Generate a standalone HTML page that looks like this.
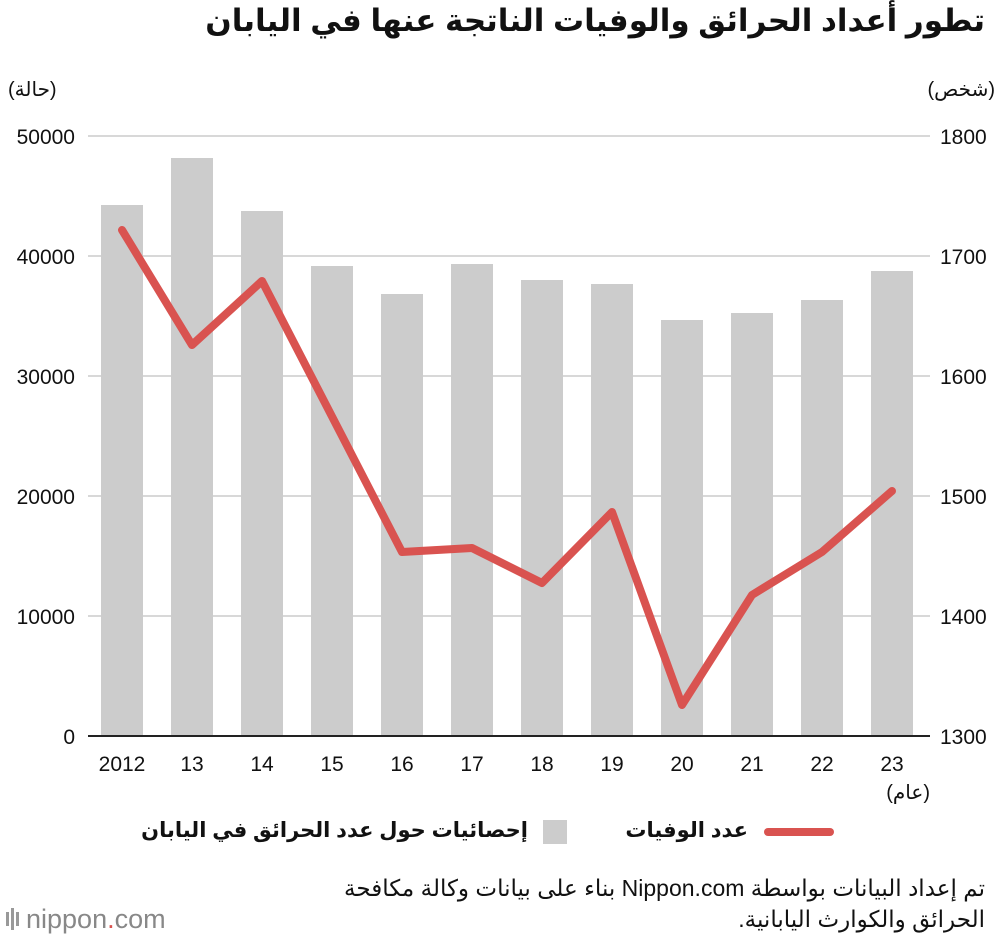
<!DOCTYPE html>
<html><head><meta charset="utf-8"><style>
body{margin:0;background:#fff;position:relative;width:1000px;height:944px;overflow:hidden;}
svg text{font-family:"Liberation Sans","DejaVu Sans",sans-serif;}
.t{position:absolute;font-family:"Liberation Sans","DejaVu Sans",sans-serif;color:#111;white-space:nowrap;direction:rtl;}
</style></head><body>
<svg width="1000" height="944" xmlns="http://www.w3.org/2000/svg" style="position:absolute;left:0;top:0">
<rect width="1000" height="944" fill="#fff"/>
<g stroke="#ccc" stroke-width="1.5">
<line x1="88" x2="930" y1="136" y2="136"/><line x1="88" x2="930" y1="256" y2="256"/>
<line x1="88" x2="930" y1="376" y2="376"/><line x1="88" x2="930" y1="496" y2="496"/>
<line x1="88" x2="930" y1="616" y2="616"/>
</g>
<g fill="#ccc">
<rect x="101" y="205" width="42" height="531"/><rect x="171" y="158" width="42" height="578"/>
<rect x="241" y="211" width="42" height="525"/><rect x="311" y="266" width="42" height="470"/>
<rect x="381" y="294" width="42" height="442"/><rect x="451" y="264" width="42" height="472"/>
<rect x="521" y="280" width="42" height="456"/><rect x="591" y="284" width="42" height="452"/>
<rect x="661" y="320" width="42" height="416"/><rect x="731" y="313" width="42" height="423"/>
<rect x="801" y="300" width="42" height="436"/><rect x="871" y="271" width="42" height="465"/>
</g>
<line x1="88" x2="930" y1="736" y2="736" stroke="#222" stroke-width="2"/>
<polyline fill="none" stroke="#d95350" stroke-width="8" stroke-linejoin="round" stroke-linecap="round"
points="122,230 192,345 262,281 402,552 472,548 542,583 612,512 682,705 752,595 822,552 892,491"/>
<g font-size="21" fill="#111" text-anchor="end">
<text x="75" y="144">50000</text><text x="75" y="264">40000</text><text x="75" y="384">30000</text>
<text x="75" y="504">20000</text><text x="75" y="624">10000</text><text x="75" y="744">0</text>
</g>
<g font-size="21" fill="#111">
<text x="940" y="144">1800</text><text x="940" y="264">1700</text><text x="940" y="384">1600</text>
<text x="940" y="504">1500</text><text x="940" y="624">1400</text><text x="940" y="744">1300</text>
</g>
<g font-size="21" fill="#111" text-anchor="middle">
<text x="122" y="771">2012</text><text x="192" y="771">13</text><text x="262" y="771">14</text>
<text x="332" y="771">15</text><text x="402" y="771">16</text><text x="472" y="771">17</text>
<text x="542" y="771">18</text><text x="612" y="771">19</text><text x="682" y="771">20</text>
<text x="752" y="771">21</text><text x="822" y="771">22</text><text x="892" y="771">23</text>
</g>
<line x1="768" x2="830" y1="832" y2="832" stroke="#d95350" stroke-width="8" stroke-linecap="round"/>
<rect x="543" y="820" width="24" height="24" fill="#ccc"/>
<g fill="#999"><rect x="6" y="912" width="3" height="14"/><rect x="11" y="908" width="3" height="22"/><rect x="16" y="912" width="3" height="14"/></g>
<text x="26" y="928" font-size="27" fill="#888">nippon<tspan fill="#d95350">.</tspan>com</text>
</svg>
<div class="t" style="right:15px;top:3px;font-size:31px;font-weight:bold;">تطور أعداد الحرائق والوفيات الناتجة عنها في اليابان</div>
<div class="t" style="left:8px;top:77px;font-size:20px;">(حالة)</div>
<div class="t" style="right:5px;top:77px;font-size:20px;">(شخص)</div>
<div class="t" style="right:70px;top:780px;font-size:20px;">(عام)</div>
<div class="t" style="right:252px;top:818px;font-size:21px;font-weight:bold;">عدد الوفيات</div>
<div class="t" style="right:472px;top:818px;font-size:21px;font-weight:bold;">إحصائيات حول عدد الحرائق في اليابان</div>
<div class="t" style="right:15px;top:875px;font-size:23px;">تم إعداد البيانات بواسطة Nippon.com بناء على بيانات وكالة مكافحة</div>
<div class="t" style="right:15px;top:906px;font-size:23px;">الحرائق والكوارث اليابانية.</div>
</body></html>
